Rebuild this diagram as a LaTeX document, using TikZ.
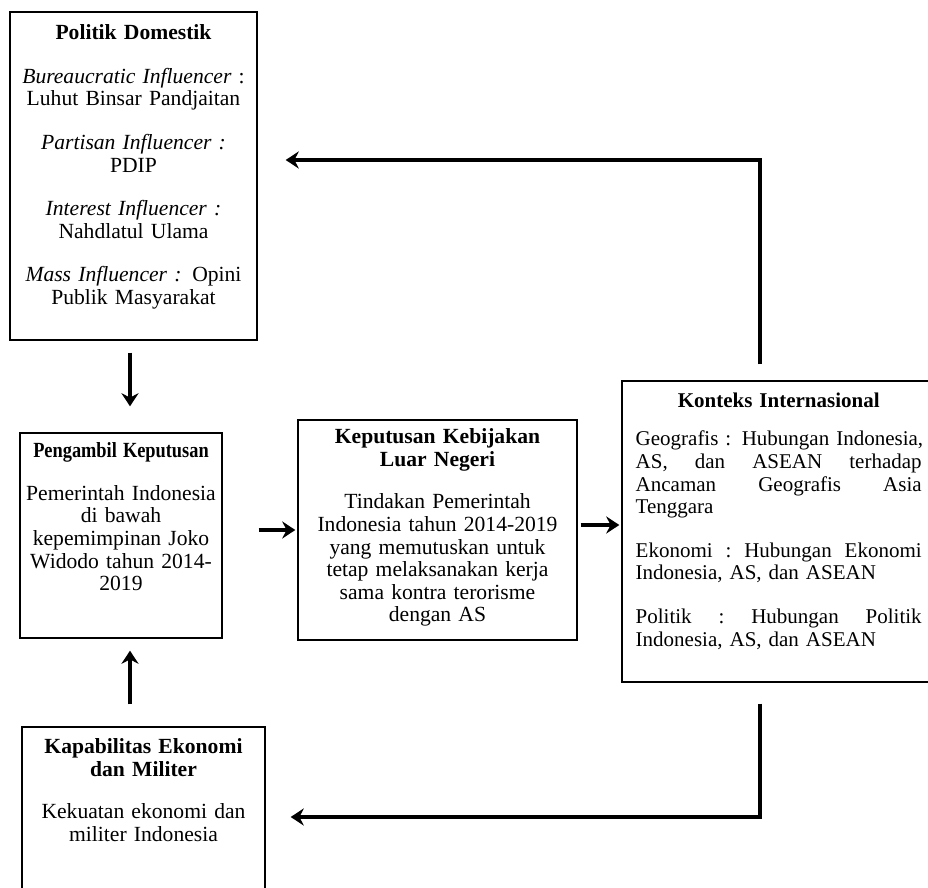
\documentclass[tikz,border=0pt]{standalone}
\usepackage{fontspec}
\usepackage{graphicx}
\setmainfont{Liberation Serif}
\usetikzlibrary{calc,arrows.meta}
\hyphenpenalty=10000
\exhyphenpenalty=10000

\begin{document}
\begin{tikzpicture}[x=0.5pt,y=-0.5pt,
    kotak/.style={draw,line width=0.7pt,inner sep=0pt},
    isi/.style={anchor=north,inner sep=0pt,align=center,font=\fontsize{10.8}{11.3}\selectfont},
    panah/.style={line width=1.8pt,-{Stealth[length=6.5pt,width=8.5pt]}}]
  \useasboundingbox (0,0) rectangle (928,888);
  \node[kotak,minimum width=123.5pt,minimum height=164pt] (domestik) at (133.5,176) {};
  \node[kotak,minimum width=101pt,minimum height=102.5pt] (pengambil) at (121,535.5) {};
  \node[kotak,minimum width=139.5pt,minimum height=110pt] (keputusan) at (437.5,530) {};
  \node[kotak,minimum width=154pt,minimum height=150.5pt] (konteks) at (776,531.5) {};
  \node[kotak,minimum width=121.5pt,minimum height=90pt] (kapabilitas) at (143.5,817) {};

  \node[isi,text width=120pt,yshift=-6.5pt] (domestik-isi) at (domestik.north) {
    \textbf{Politik Domestik}\\[10.5pt]
    \textit{Bureaucratic Influencer} :\\
    Luhut Binsar Pandjaitan\\[10.5pt]
    \textit{Partisan Influencer :}\\
    PDIP\\[10.5pt]
    \textit{Interest Influencer :}\\
    Nahdlatul Ulama\\[10.5pt]
    \textit{Mass Influencer :} Opini\\
    Publik Masyarakat};
  \node[isi,text width=97pt,yshift=-5pt] (pengambil-isi) at (pengambil.north) {
    \scalebox{0.85}[1]{\textbf{Pengambil Keputusan}}\\[10pt]
    Pemerintah Indonesia\\
    di bawah\\
    kepemimpinan Joko\\
    Widodo tahun 2014-\\
    2019};
  \node[isi,text width=135pt,yshift=-4.5pt] (keputusan-isi) at (keputusan.north) {
    \textbf{Keputusan Kebijakan}\\
    \textbf{Luar Negeri}\\[10pt]
    Tindakan Pemerintah\\
    Indonesia tahun 2014-2019\\
    yang memutuskan untuk\\
    tetap melaksanakan kerja\\
    sama kontra terorisme\\
    dengan AS};
  \node[isi,anchor=north west,align=left,text width=143pt,xshift=7pt,yshift=-6pt,font=\fontsize{10.5}{11.3}\selectfont] (konteks-isi) at (konteks.north west) {
    \hfill\textbf{Konteks Internasional}\hfill\null\\[8pt]
    \mbox{Geografis : Hubungan Indonesia,}\\
    AS,\hfill dan\hfill ASEAN\hfill terhadap\\
    Ancaman\hfill Geografis\hfill Asia\\
    Tenggara\\[10.5pt]
    Ekonomi\hfill :\hfill Hubungan\hfill Ekonomi\\
    Indonesia, AS, dan ASEAN\\[10.5pt]
    Politik\hfill :\hfill Hubungan\hfill Politik\\
    Indonesia, AS, dan ASEAN};
  \node[isi,text width=118pt,yshift=-6pt] (kapabilitas-isi) at (kapabilitas.north) {
    \textbf{Kapabilitas Ekonomi}\\
    \textbf{dan Militer}\\[10pt]
    Kekuatan ekonomi dan\\
    militer Indonesia};

  \draw[panah] ($(domestik.south -| pengambil.north)+(4.5pt,-6pt)$) -- ($(pengambil.north)+(4.5pt,13pt)$);
  \draw[panah] ($(kapabilitas.north -| pengambil.south)+(4.5pt,11pt)$) -- ($(pengambil.south)+(4.5pt,-6pt)$);
  \draw[panah] ($(pengambil.east |- keputusan.west)+(18pt,0)$) -- ($(keputusan.west)+(-1pt,0)$);
  \draw[panah] ($(keputusan.east)+(1.5pt,2.5pt)$) -- ($(konteks.west |- keputusan.east)+(-1pt,2.5pt)$);
  \draw[panah] ($(konteks.north)+(-8pt,8pt)$) |- ($(domestik.east)+(14pt,8pt)$);
  \draw[panah] ($(konteks.south)+(-8pt,-10.5pt)$) |- ($(kapabilitas.east)+(12.5pt,0)$);
\end{tikzpicture}
\end{document}
